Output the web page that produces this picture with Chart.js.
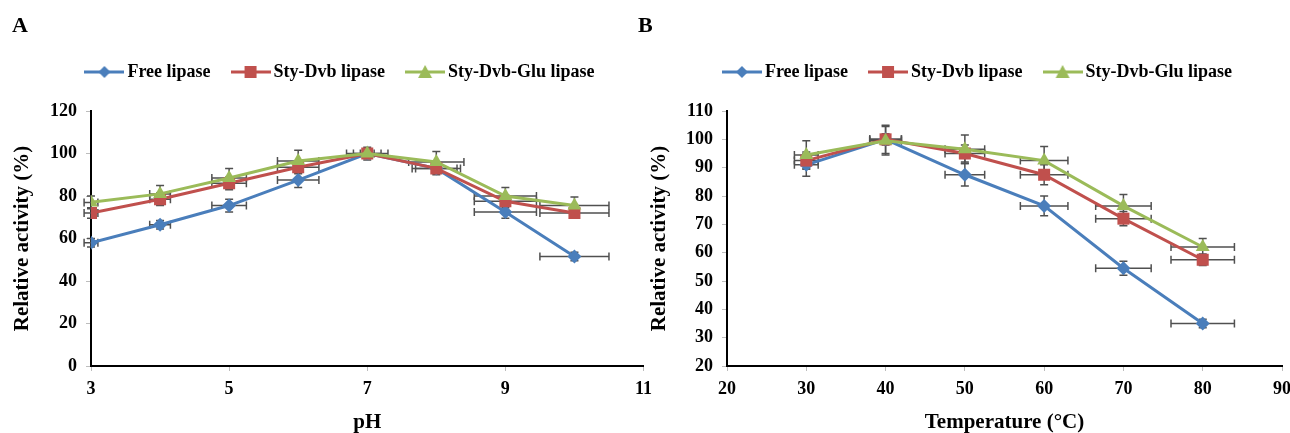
<!DOCTYPE html>
<html>
<head>
<meta charset="utf-8">
<title>Relative activity vs pH and temperature</title>
<script src="https://cdn.jsdelivr.net/npm/chart.js@4.4.0/dist/chart.umd.min.js"></script>
<style>
  html, body { margin: 0; padding: 0; background: #fff; overflow: hidden; }
  body { width: 1290px; height: 433px; position: relative; }
  .panel { position: absolute; top: 0; }
  #panelA { left: 0; }
  #panelB { left: 638px; }
</style>
</head>
<body>
<div class="panel" id="panelA"><canvas id="chartA" width="660" height="433"></canvas></div>
<div class="panel" id="panelB"><canvas id="chartB" width="662" height="433"></canvas></div>
<script>
const seriesNames = ['Free lipase', 'Sty-Dvb lipase', 'Sty-Dvb-Glu lipase'];

// panel A - pH
const phValues = [3, 4, 5, 6, 7, 8, 9, 10];
const freePh = [58, 66.5, 75.5, 87.5, 100, 93, 72.5, 51.5];
const dvbPh = [72, 78.5, 86, 93.5, 100, 93, 77.5, 72];
const gluPh = [77, 81, 88.5, 96.5, 100, 96, 80, 75.5];
const freePhErrY = [2, 2, 3, 3.5, 2, 2, 3, 2];
const dvbPhErrY = [2.5, 3, 3, 3, 2, 3, 3, 2.5];
const gluPhErrY = [3, 4, 4.5, 5, 3, 5, 4, 4];
const freePhErrX = [0.1, 0.15, 0.25, 0.3, 0.1, 0.3, 0.45, 0.5];
const dvbPhErrX = [0.1, 0.15, 0.25, 0.3, 0.2, 0.35, 0.45, 0.5];
const gluPhErrX = [0.1, 0.15, 0.25, 0.3, 0.3, 0.4, 0.45, 0.5];
const phTicks = [3, 5, 7, 9, 11];
const phActivityTicks = [0, 20, 40, 60, 80, 100, 120];

// panel B - temperature
const tempValues = [30, 40, 50, 60, 70, 80];
const freeTemp = [91, 100, 87.5, 76.5, 54.5, 35];
const dvbTemp = [92.5, 100, 95, 87.5, 72, 57.5];
const gluTemp = [94.5, 99.5, 96.5, 92.5, 76.5, 62];
const freeTempErrY = [4, 5, 4, 3.5, 2.5, 1.5];
const dvbTempErrY = [3, 2, 3, 3.5, 2.5, 2];
const gluTempErrY = [5, 5, 5, 5, 4, 3];
const freeTempErrX = [1.5, 2, 2.5, 3, 3.5, 4];
const dvbTempErrX = [1.5, 2, 2.5, 3, 3.5, 4];
const gluTempErrX = [1.5, 2, 2.5, 3, 3.5, 4];
const tempTicks = [20, 30, 40, 50, 60, 70, 80, 90];
const tempActivityTicks = [20, 30, 40, 50, 60, 70, 80, 90, 100, 110];

const colors = ['#4a7ebb', '#c0504d', '#9bbb59'];
const markers = ['rectRot', 'rect', 'triangle'];
const markerSizes = [7, 8.5, 8];

const serif = "'Times New Roman', 'Liberation Serif', serif";
Chart.defaults.font.family = serif;
Chart.defaults.font.weight = 'bold';
Chart.defaults.color = '#000';

// small line + marker picture for the legend
function legendIcon(color, style) {
    const c = document.createElement('canvas');
    c.width = 40;
    c.height = 16;
    const g = c.getContext('2d');
    g.strokeStyle = color;
    g.fillStyle = color;
    g.lineWidth = 3;
    g.beginPath();
    g.moveTo(0, 8);
    g.lineTo(40, 8);
    g.stroke();
    g.beginPath();
    if (style === 'rectRot') {
        g.moveTo(20, 2); g.lineTo(26, 8); g.lineTo(20, 14); g.lineTo(14, 8);
    } else if (style === 'rect') {
        g.rect(14, 2, 12, 12);
    } else {
        g.moveTo(20, 1); g.lineTo(27, 14); g.lineTo(13, 14);
    }
    g.closePath();
    g.fill();
    return c;
}

function makeDatasets(xs, ys, errX, errY) {
    return ys.map((vals, i) => ({
        label: seriesNames[i],
        data: xs.map((x, j) => ({ x: x, y: vals[j] })),
        xErr: errX[i],
        yErr: errY[i],
        borderColor: colors[i],
        backgroundColor: colors[i],
        borderWidth: 3,
        pointStyle: markers[i],
        pointRadius: markerSizes[i],
        pointHoverRadius: markerSizes[i],
        pointBorderWidth: 0,
        tension: 0,
        order: 3 - i
    }));
}

const errorBars = {
    id: 'errorBars',
    beforeDatasetsDraw(chart) {
        const { ctx, scales: { x, y } } = chart;
        const cap = 4;
        ctx.save();
        ctx.strokeStyle = '#505050';
        ctx.lineWidth = 1.5;
        chart.data.datasets.forEach(ds => {
            ds.data.forEach((p, i) => {
                const px = x.getPixelForValue(p.x);
                const py = y.getPixelForValue(p.y);
                const x0 = x.getPixelForValue(p.x - ds.xErr[i]);
                const x1 = x.getPixelForValue(p.x + ds.xErr[i]);
                const y0 = y.getPixelForValue(p.y - ds.yErr[i]);
                const y1 = y.getPixelForValue(p.y + ds.yErr[i]);
                ctx.beginPath();
                ctx.moveTo(x0, py); ctx.lineTo(x1, py);
                ctx.moveTo(x0, py - cap); ctx.lineTo(x0, py + cap);
                ctx.moveTo(x1, py - cap); ctx.lineTo(x1, py + cap);
                ctx.moveTo(px, y0); ctx.lineTo(px, y1);
                ctx.moveTo(px - cap, y0); ctx.lineTo(px + cap, y0);
                ctx.moveTo(px - cap, y1); ctx.lineTo(px + cap, y1);
                ctx.stroke();
            });
        });
        ctx.restore();
    }
};

// extra room under the legend, and nudge it sideways
const legendGap = {
    id: 'legendGap',
    afterInit(chart, args, opts) {
        const legend = chart.legend;
        const fit = legend.fit;
        legend.fit = function () {
            fit.call(this);
            this.height += opts.gap;
        };
    },
    afterLayout(chart, args, opts) {
        chart.legend.left += opts.shift;
        chart.legend.right += opts.shift;
    }
};

function makeChart(canvasId, cfg) {
    const tickFont = { size: 18, weight: 'bold' };
    const titleFont = { size: 21, weight: 'bold', lineHeight: 1 };
    return new Chart(document.getElementById(canvasId), {
        type: 'line',
        data: { datasets: cfg.datasets },
        options: {
            responsive: false,
            animation: false,
            layout: { padding: { left: cfg.padLeft, right: cfg.padRight, top: 0, bottom: 0 } },
            scales: {
                x: {
                    type: 'linear',
                    min: cfg.xTicks[0],
                    max: cfg.xTicks[cfg.xTicks.length - 1],
                    afterBuildTicks: s => { s.ticks = cfg.xTicks.map(v => ({ value: v })); },
                    ticks: { font: tickFont, color: '#000', padding: 8, maxRotation: 0 },
                    grid: { drawOnChartArea: false, drawTicks: true, tickLength: 5, color: '#bdbdbd' },
                    border: { display: true, color: '#000', width: 2 },
                    title: { display: true, text: cfg.xTitle, font: titleFont, color: '#000', padding: 0 },
                    afterFit: s => { s.height = 67; }
                },
                y: {
                    min: cfg.yTicks[0],
                    max: cfg.yTicks[cfg.yTicks.length - 1],
                    afterBuildTicks: s => { s.ticks = cfg.yTicks.map(v => ({ value: v })); },
                    ticks: { font: tickFont, color: '#000', padding: 9 },
                    grid: { drawOnChartArea: false, drawTicks: true, tickLength: 5, color: '#bdbdbd' },
                    border: { display: true, color: '#000', width: 2 },
                    title: { display: true, text: 'Relative activity (%)', font: titleFont, color: '#000', padding: { top: cfg.yTitlePad, bottom: 0 } },
                    afterFit: s => { s.width = cfg.yWidth; }
                }
            },
            plugins: {
                title: {
                    display: true,
                    text: cfg.panel,
                    align: 'start',
                    font: { size: 22, weight: 'bold', lineHeight: 1 },
                    color: '#000',
                    padding: { top: 15, bottom: 0 }
                },
                legend: {
                    display: true,
                    position: 'top',
                    labels: {
                        usePointStyle: true,
                        pointStyleWidth: 28,
                        padding: 26,
                        font: { size: 18, weight: 'bold' },
                        color: '#000',
                        generateLabels: chart => chart.data.datasets.map((ds, i) => ({
                            text: ds.label,
                            pointStyle: legendIcon(ds.borderColor, ds.pointStyle),
                            fillStyle: ds.borderColor,
                            strokeStyle: ds.borderColor,
                            lineWidth: 0,
                            hidden: false,
                            datasetIndex: i
                        }))
                    }
                },
                tooltip: { enabled: false },
                legendGap: { gap: 20, shift: cfg.legendShift }
            }
        },
        plugins: [errorBars, legendGap]
    });
}

makeChart('chartA', {
    panel: 'A',
    datasets: makeDatasets(phValues, [freePh, dvbPh, gluPh],
        [freePhErrX, dvbPhErrX, gluPhErrX], [freePhErrY, dvbPhErrY, gluPhErrY]),
    xTicks: phTicks,
    yTicks: phActivityTicks,
    xTitle: 'pH',
    padLeft: 12,
    padRight: 15,
    yWidth: 79,
    yTitlePad: 0,
    legendShift: 14
});

makeChart('chartB', {
    panel: 'B',
    datasets: makeDatasets(tempValues, [freeTemp, dvbTemp, gluTemp],
        [freeTempErrX, dvbTempErrX, gluTempErrX], [freeTempErrY, dvbTempErrY, gluTempErrY]),
    xTicks: tempTicks,
    yTicks: tempActivityTicks,
    xTitle: 'Temperature (°C)',
    padLeft: 0,
    padRight: 18,
    yWidth: 89,
    yTitlePad: 11,
    legendShift: 20
});
</script>
</body>
</html>
